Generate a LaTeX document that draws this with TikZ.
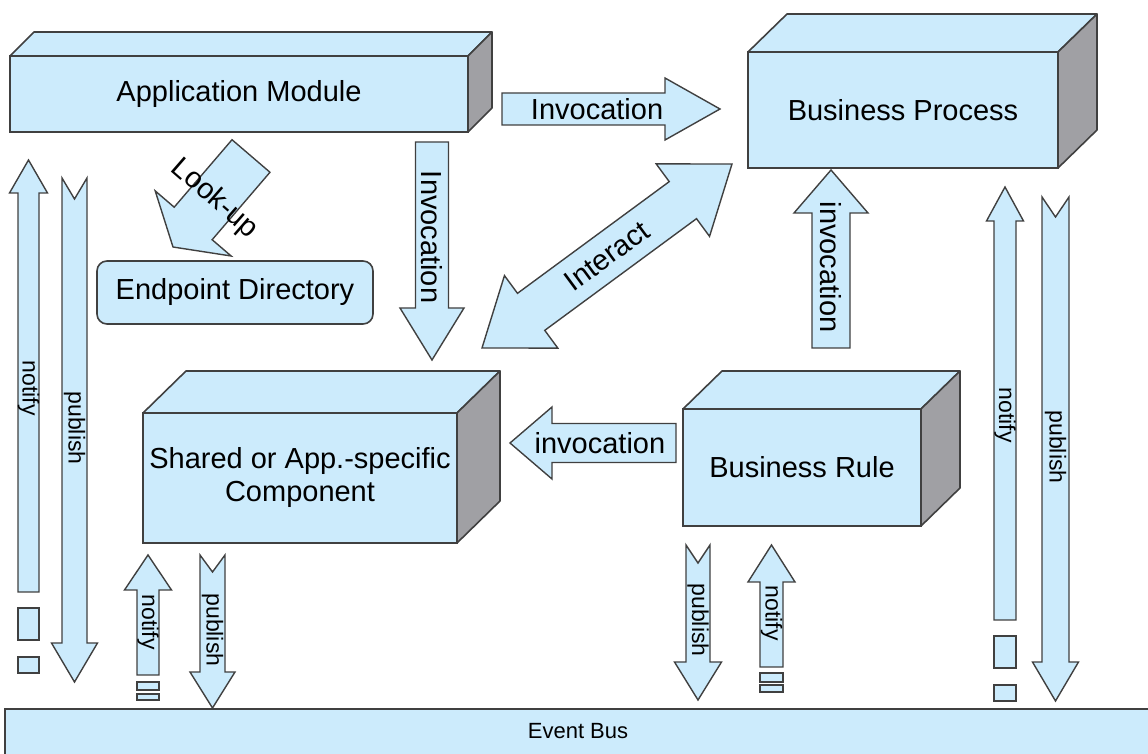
\documentclass[tikz,border=0pt]{standalone}
\usepackage{fontspec}
\setmainfont{Liberation Sans}
\usetikzlibrary{calc}

\definecolor{boxblue}{RGB}{204,235,252}
\definecolor{boxgray}{RGB}{160,160,164}
\definecolor{edgegray}{RGB}{64,64,64}

% fat arrow: [opts]{tail}{tip}{shaft half width}{head half width}{head length}{tail notch}
\newcommand{\blockarrow}[7][]{%
  \coordinate (ba-h) at ($(#3)!#6!(#2)$);
  \draw[arrowbody,#1] ($(#2)!#4!90:(#3)$) -- ($(ba-h)!#4!90:(#3)$)
    -- ($(ba-h)!#5!90:(#3)$) -- (#3) -- ($(ba-h)!#5!-90:(#3)$)
    -- ($(ba-h)!#4!-90:(#3)$) -- ($(#2)!#4!-90:(#3)$) -- ($(#2)!#7!(#3)$) -- cycle;
}
% fat arrow with two heads: [opts]{tip a}{tip b}{shaft half width}{head half width}{head length}
\newcommand{\twowayarrow}[6][]{%
  \coordinate (da-a) at ($(#2)!#6!(#3)$);
  \coordinate (da-b) at ($(#3)!#6!(#2)$);
  \draw[arrowbody,#1] (#2) -- ($(da-a)!#5!90:(#3)$) -- ($(da-a)!#4!90:(#3)$)
    -- ($(da-b)!#4!90:(#3)$) -- ($(da-b)!#5!90:(#3)$) -- (#3)
    -- ($(da-b)!#5!-90:(#3)$) -- ($(da-b)!#4!-90:(#3)$)
    -- ($(da-a)!#4!-90:(#3)$) -- ($(da-a)!#5!-90:(#3)$) -- cycle;
}
% top and side faces of a block: {node}{dx}{dy}
\newcommand{\boxsides}[3]{%
  \draw[topface] (#1.north west) -- ++(#2,#3) -- ($(#1.north east)+(#2,#3)$) -- (#1.north east) -- cycle;
  \draw[sideface] (#1.north east) -- ++(#2,#3) -- ($(#1.south east)+(#2,#3)$) -- (#1.south east) -- cycle;
}

\begin{document}
\begin{tikzpicture}[
    x=0.5pt, y=-0.5pt,
    block/.style={draw=edgegray, fill=boxblue, line width=0.8pt, outer sep=0pt, inner sep=1pt, align=center, font=\fontsize{14.5}{16.5}\selectfont},
    topface/.style={draw=edgegray, fill=boxblue, line width=0.8pt, line join=round},
    sideface/.style={draw=edgegray, fill=boxgray, line width=0.8pt, line join=round},
    busbox/.style={draw=edgegray, fill=boxblue, line width=0.8pt, outer sep=0pt},
    arrowbody/.style={draw=edgegray, fill=boxblue, line width=0.7pt},
    fragment/.style={draw=edgegray, fill=boxblue, line width=0.7pt},
    arrowtext/.style={font=\fontsize{14.5}{16.5}\selectfont, inner sep=0pt},
    smalltext/.style={font=\fontsize{11.5}{13}\selectfont, inner sep=0pt}
]
    \useasboundingbox (0,0) rectangle (1148,754);

    % blocks
    \node[block, minimum width=229pt, minimum height=38pt] (am) at (239,94) {Application Module};
    \node[block, minimum width=155pt, minimum height=58pt] (bp) at (903,110) {Business Process};
    \node[block, minimum width=157pt, minimum height=65pt] (sc) at (300,478) {Shared or App.-specific\\Component};
    \node[block, minimum width=119pt, minimum height=58.5pt] (br) at (802,467.5) {Business Rule};
    \node[block, rounded corners=5pt, minimum width=138pt, minimum height=31.5pt] (ed) at (235,292.5) {Endpoint Directory};
    \boxsides{am}{24}{-24}
    \boxsides{bp}{39}{-38}
    \boxsides{sc}{43}{-42}
    \boxsides{br}{39}{-38}

    % event bus
    \node[busbox, anchor=north, minimum width=573pt, minimum height=30pt] (bus) at (578,709) {};
    \node[smalltext, font=\fontsize{11}{13}\selectfont] (buslabel) at (578,731) {Event Bus};

    % invocations
    \coordinate (am-bp-a) at (502,109);
    \coordinate (am-bp-b) at (720,109);
    \blockarrow{am-bp-a}{am-bp-b}{8pt}{15.5pt}{27.5pt}{0pt}
    \path (am-bp-a) -- (am-bp-b) node[arrowtext, pos=0.436] (am-bp-label) {Invocation};

    \coordinate (am-sc-a) at (432,142);
    \coordinate (am-sc-b) at (432,360);
    \blockarrow{am-sc-a}{am-sc-b}{8.25pt}{16pt}{26pt}{0pt}
    \path (am-sc-a) -- (am-sc-b) node[arrowtext, rotate=-90, pos=0.436] (am-sc-label) {Invocation};

    \coordinate (lookup-a) at (251,156);
    \coordinate (lookup-b) at (173,247);
    \blockarrow{lookup-a}{lookup-b}{12.5pt}{25pt}{15.5pt}{0pt}
    \path (lookup-a) -- (lookup-b) node[arrowtext, rotate=-41, pos=0.47] (lookup-label) {Look-up};

    \coordinate (sc-bp-a) at (482,348);
    \coordinate (sc-bp-b) at (732,164);
    \twowayarrow{sc-bp-a}{sc-bp-b}{11.5pt}{22.5pt}{30.5pt}
    \path (sc-bp-a) -- (sc-bp-b) node[arrowtext, sloped, midway] (sc-bp-label) {Interact};

    \coordinate (br-bp-a) at (831,348);
    \coordinate (br-bp-b) at (831,170);
    \blockarrow{br-bp-a}{br-bp-b}{9.5pt}{18.5pt}{21.5pt}{0pt}
    \path (br-bp-a) -- (br-bp-b) node[arrowtext, rotate=-90, pos=0.455] (br-bp-label) {invocation};

    \coordinate (br-sc-a) at (676,443);
    \coordinate (br-sc-b) at (510,443);
    \blockarrow{br-sc-a}{br-sc-b}{9.75pt}{18pt}{21pt}{0pt}
    \path (br-sc-a) -- (br-sc-b) node[arrowtext, pos=0.458] (br-sc-label) {invocation};

    % notify / publish on the event bus
    \coordinate (ln-a) at (28.5,592);
    \coordinate (ln-b) at (28.5,160);
    \blockarrow{ln-a}{ln-b}{5.25pt}{9.5pt}{16.5pt}{0pt}
    \path (ln-a) -- (ln-b) node[smalltext, rotate=-90, pos=0.472] (ln-label) {notify};
    \draw[fragment] (18,608) rectangle (39,640);
    \draw[fragment] (18,657) rectangle (39,673);

    \coordinate (lp-a) at (74.5,178);
    \coordinate (lp-b) at (74.5,682);
    \blockarrow{lp-a}{lp-b}{6.25pt}{11.5pt}{19.5pt}{10.5pt}
    \path (lp-a) -- (lp-b) node[smalltext, rotate=-90, pos=0.496] (lp-label) {publish};

    \coordinate (scn-a) at (148,675);
    \coordinate (scn-b) at (148,555);
    \blockarrow{scn-a}{scn-b}{5.5pt}{11.75pt}{17.5pt}{0pt}
    \path (scn-a) -- (scn-b) node[smalltext, rotate=-90, pos=0.44] (scn-label) {notify};
    \draw[fragment] (137,682) rectangle (159,690);
    \draw[fragment] (137,694) rectangle (159,700);

    \coordinate (scp-a) at (212.5,555);
    \coordinate (scp-b) at (212.5,708);
    \blockarrow{scp-a}{scp-b}{6.25pt}{11.25pt}{18pt}{8.5pt}
    \path (scp-a) -- (scp-b) node[smalltext, rotate=-90, pos=0.49] (scp-label) {publish};

    \coordinate (brp-a) at (698,545);
    \coordinate (brp-b) at (698,700);
    \blockarrow{brp-a}{brp-b}{6pt}{11.75pt}{19pt}{9pt}
    \path (brp-a) -- (brp-b) node[smalltext, rotate=-90, pos=0.484] (brp-label) {publish};

    \coordinate (brn-a) at (771.5,667);
    \coordinate (brn-b) at (771.5,545);
    \blockarrow{brn-a}{brn-b}{5.75pt}{11.75pt}{18.5pt}{0pt}
    \path (brn-a) -- (brn-b) node[smalltext, rotate=-90, pos=0.44] (brn-label) {notify};
    \draw[fragment] (760,673) rectangle (783,682);
    \draw[fragment] (760,685) rectangle (783,692);

    \coordinate (rn-a) at (1005,620);
    \coordinate (rn-b) at (1005,187);
    \blockarrow{rn-a}{rn-b}{5.5pt}{9.25pt}{17pt}{0pt}
    \path (rn-a) -- (rn-b) node[smalltext, rotate=-90, pos=0.473] (rn-label) {notify};
    \draw[fragment] (994,636) rectangle (1016,668);
    \draw[fragment] (994,685) rectangle (1016,701);

    \coordinate (rp-a) at (1055.5,197);
    \coordinate (rp-b) at (1055.5,701);
    \blockarrow{rp-a}{rp-b}{6.75pt}{11.5pt}{19.5pt}{10pt}
    \path (rp-a) -- (rp-b) node[smalltext, rotate=-90, pos=0.496] (rp-label) {publish};
\end{tikzpicture}
\end{document}
